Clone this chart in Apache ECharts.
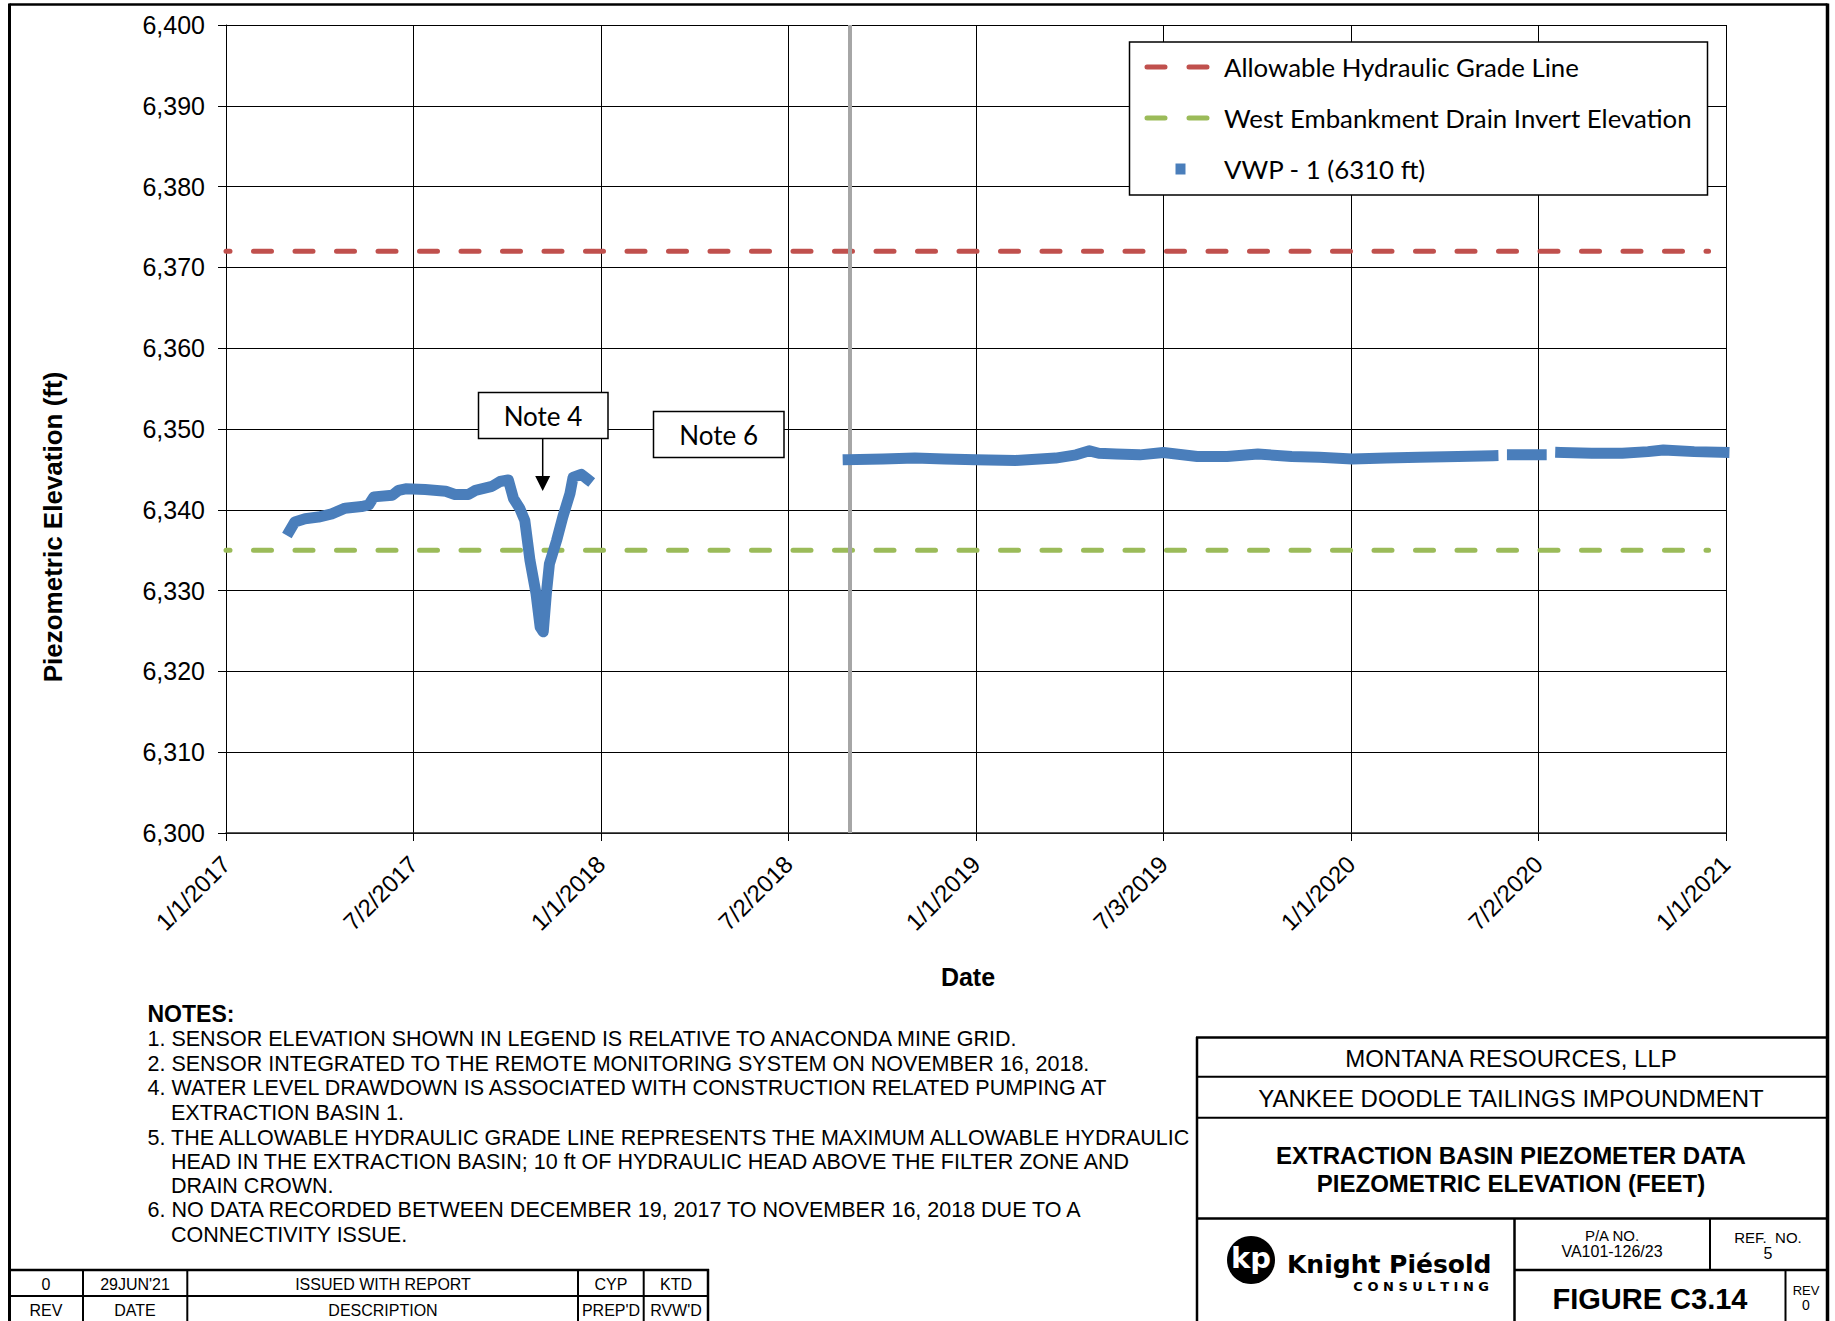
<!DOCTYPE html>
<html>
<head>
<meta charset="utf-8">
<title>Extraction Basin Piezometer Data</title>
<script src="https://cdn.jsdelivr.net/npm/echarts@6/dist/echarts.min.js"></script>
<style>
  html, body { margin: 0; padding: 0; background: #fff; }
  #main { width: 1835px; height: 1321px; }
</style>
</head>
<body>
<div id="main"></div>
<script>
// ---- data ----
const axisStart = '2017-01-01';
const axisEnd = '2021-01-01';
const xTickLabels = ['1/1/2017', '7/2/2017', '1/1/2018', '7/2/2018', '1/1/2019',
                     '7/3/2019', '1/1/2020', '7/2/2020', '1/1/2021'];

const hglDates = ['2017-01-01', '2020-12-15'];
const hglValues = [6372, 6372];

const drainDates = ['2017-01-01', '2020-12-15'];
const drainValues = [6335, 6335];

// VWP-1 readings (null = no record)
const vwpDates = [
  '2017-03-04', '2017-03-09', '2017-03-19', '2017-04-01', '2017-04-14', '2017-04-27',
  '2017-05-13', '2017-05-20', '2017-05-25', '2017-06-12', '2017-06-18', '2017-06-25',
  '2017-07-14', '2017-08-03', '2017-08-12', '2017-08-25', '2017-09-01', '2017-09-17',
  '2017-09-25', '2017-10-03', '2017-10-08', '2017-10-14', '2017-10-19', '2017-10-24',
  '2017-10-30', '2017-11-03', '2017-11-06', '2017-11-09', '2017-11-12', '2017-11-19',
  '2017-11-25', '2017-12-02', '2017-12-05', '2017-12-13', '2017-12-19',
  '2018-03-01',
  '2018-08-30', '2018-10-03', '2018-11-03', '2018-12-02', '2019-01-01', '2019-02-09',
  '2019-03-20', '2019-04-09', '2019-04-22', '2019-05-01', '2019-05-18', '2019-06-10',
  '2019-07-03', '2019-08-05', '2019-09-03', '2019-10-03', '2019-11-05', '2019-12-02',
  '2020-01-03', '2020-02-05', '2020-03-08', '2020-04-15', '2020-05-19',
  '2020-05-28',
  '2020-06-07', '2020-07-05',
  '2020-07-15',
  '2020-07-24', '2020-08-23', '2020-09-22', '2020-10-17', '2020-11-01', '2020-12-01',
  '2020-12-30'
];
const vwpValues = [
  6337.4, 6338.5, 6338.9, 6339.1, 6339.5, 6340.2,
  6340.4, 6340.6, 6341.6, 6341.8, 6342.4, 6342.6,
  6342.5, 6342.3, 6341.9, 6341.9, 6342.4, 6342.9,
  6343.5, 6343.7, 6341.4, 6340.2, 6338.7, 6333.8,
  6329.6, 6325.5, 6324.9, 6329.6, 6333.3, 6336.2,
  6339.1, 6342.0, 6344.0, 6344.4, 6343.8,
  null,
  6346.2, 6346.3, 6346.4, 6346.3, 6346.2, 6346.1,
  6346.4, 6346.8, 6347.3, 6347.0, 6346.9, 6346.8,
  6347.1, 6346.6, 6346.6, 6346.9, 6346.6, 6346.5,
  6346.3, 6346.4, 6346.5, 6346.6, 6346.7,
  null,
  6346.8, 6346.8,
  null,
  6347.1, 6347.0, 6347.0, 6347.2, 6347.4, 6347.2,
  6347.1
];

const gapMarkerDate = '2018-09-01';

const notesLines = [
  ['NOTES:', true, false],
  ['1. SENSOR ELEVATION SHOWN IN LEGEND IS RELATIVE TO ANACONDA MINE GRID.', false, false],
  ['2. SENSOR INTEGRATED TO THE REMOTE MONITORING SYSTEM ON NOVEMBER 16, 2018.', false, false],
  ['4. WATER LEVEL DRAWDOWN IS ASSOCIATED WITH CONSTRUCTION RELATED PUMPING AT', false, false],
  ['EXTRACTION BASIN 1.', false, true],
  ['5. THE ALLOWABLE HYDRAULIC GRADE LINE REPRESENTS THE MAXIMUM ALLOWABLE HYDRAULIC', false, false],
  ['HEAD IN THE EXTRACTION BASIN; 10 ft OF HYDRAULIC HEAD ABOVE THE FILTER ZONE AND', false, true],
  ['DRAIN CROWN.', false, true],
  ['6. NO DATA RECORDED BETWEEN DECEMBER 19, 2017 TO NOVEMBER 16, 2018 DUE TO A', false, false],
  ['CONNECTIVITY ISSUE.', false, true]
];

// ---- helpers ----
const DAY = 86400000;
function dayOf(s) {
  const p = s.split('-').map(Number);
  const a = axisStart.split('-').map(Number);
  return (Date.UTC(p[0], p[1] - 1, p[2]) - Date.UTC(a[0], a[1] - 1, a[2])) / DAY;
}
function pairs(dates, values) {
  return dates.map((d, i) => [dayOf(d), values[i]]);
}
const xMax = dayOf(axisEnd);
const xInterval = xMax / 8;
const ARIAL = 'Liberation Sans, Arial, sans-serif';
const SANS = 'Lato, Open Sans, sans-serif';
const LOGO = 'DejaVu Sans, sans-serif';

function txt(x, y, text, size, opts) {
  opts = opts || {};
  return {
    type: 'text', x: x, y: y, z: opts.z || 20, rotation: opts.rotation || 0,
    silent: true,
    style: {
      text: text, x: 0, y: 0,
      font: (opts.bold ? 'bold ' : '') + size + 'px ' + (opts.family || ARIAL),
      fill: opts.color || '#000',
      align: opts.align || 'center',
      verticalAlign: 'middle'
    }
  };
}
function ln(x1, y1, x2, y2, w, color) {
  return {
    type: 'line', z: 20, silent: true,
    shape: { x1: x1, y1: y1, x2: x2, y2: y2 },
    style: { stroke: color || '#000', lineWidth: w }
  };
}
function box(x, y, w, h, lw, z) {
  return {
    type: 'rect', z: z || 20, silent: true,
    shape: { x: x, y: y, width: w, height: h },
    style: { fill: '#fff', stroke: '#000', lineWidth: lw }
  };
}

// ---- page furniture (frame, notes, title block) ----
const gfx = [];
// drawing frame
gfx.push(ln(9.5, 4.5, 1827.5, 4.5, 2.5));
gfx.push(ln(9.5, 3.5, 9.5, 1321, 3));
gfx.push(ln(1827.5, 3.5, 1827.5, 1321, 3.5));

// legend frame
gfx.push(box(1129.5, 42, 578, 153, 1.5, 3));

// callouts
gfx.push(box(478.5, 392.5, 129.5, 46, 1.5));
gfx.push(txt(543, 416, 'Note 4', 26, { family: SANS }));
gfx.push(ln(542.7, 438.7, 542.7, 478, 1.5));
gfx.push({
  type: 'polygon', z: 20, silent: true,
  shape: { points: [[535.2, 476], [550.2, 476], [542.7, 491]] },
  style: { fill: '#000' }
});
gfx.push(box(653.5, 411.5, 130.5, 46, 1.5));
gfx.push(txt(718.7, 435, 'Note 6', 26, { family: SANS }));

// axis titles
gfx.push(txt(53, 527, 'Piezometric Elevation (ft)', 26, { bold: true, rotation: Math.PI / 2 }));
gfx.push(txt(968, 977, 'Date', 25, { bold: true }));

// notes
const noteY = [1013.5, 1039.2, 1063.8, 1088.4, 1113, 1137.5, 1162.1, 1185.5, 1210.1, 1234.7];
notesLines.forEach((n, i) => {
  gfx.push(txt(n[2] ? 171 : 147.5, noteY[i], n[0], n[1] ? 23 : 21.5, { bold: n[1], align: 'left' }));
});

// revision table
gfx.push(ln(9, 1270, 709, 1270, 2.5));
gfx.push(ln(9, 1296, 709, 1296, 2));
[83, 187.3, 578, 643.7].forEach(x => gfx.push(ln(x, 1270, x, 1321, 2)));
gfx.push(ln(708, 1269, 708, 1321, 2.5));
const revRow1 = ['0', "29JUN'21", 'ISSUED WITH REPORT', 'CYP', 'KTD'];
const revRow2 = ['REV', 'DATE', 'DESCRIPTION', "PREP'D", "RVW'D"];
const revCx = [46, 135, 383, 611, 676];
revRow1.forEach((t, i) => gfx.push(txt(revCx[i], 1284, t, 16)));
revRow2.forEach((t, i) => gfx.push(txt(revCx[i], 1310.5, t, 16)));

// title block
gfx.push(ln(1196, 1037.5, 1828, 1037.5, 2.5));
gfx.push(ln(1197, 1037, 1197, 1321, 2.5));
gfx.push(ln(1197, 1076.7, 1828, 1076.7, 2));
gfx.push(ln(1197, 1117.8, 1828, 1117.8, 2));
gfx.push(ln(1197, 1218.5, 1828, 1218.5, 2.5));
gfx.push(ln(1514.5, 1218.5, 1514.5, 1321, 2.5));
gfx.push(ln(1710, 1218.5, 1710, 1270, 2));
gfx.push(ln(1514.5, 1270, 1828, 1270, 2.5));
gfx.push(ln(1785.5, 1270, 1785.5, 1321, 2));
gfx.push(txt(1511, 1058, 'MONTANA RESOURCES, LLP', 24));
gfx.push(txt(1511, 1098, 'YANKEE DOODLE TAILINGS IMPOUNDMENT', 24));
gfx.push(txt(1511, 1155, 'EXTRACTION BASIN PIEZOMETER DATA', 24, { bold: true }));
gfx.push(txt(1511, 1183, 'PIEZOMETRIC ELEVATION (FEET)', 24, { bold: true }));
gfx.push(txt(1612, 1235, 'P/A NO.', 15));
gfx.push(txt(1612, 1251, 'VA101-126/23', 16));
gfx.push(txt(1768, 1237, 'REF.  NO.', 15));
gfx.push(txt(1768, 1253, '5', 16));
gfx.push(txt(1650, 1299, 'FIGURE C3.14', 29, { bold: true }));
gfx.push(txt(1806, 1290, 'REV', 13));
gfx.push(txt(1806, 1305, '0', 14));

// logo
gfx.push({
  type: 'circle', z: 20, silent: true,
  shape: { cx: 1251, cy: 1260, r: 24 },
  style: { fill: '#000' }
});
gfx.push(txt(1251, 1258, 'kp', 29, { bold: true, color: '#fff', family: LOGO }));
gfx.push(txt(1287, 1264, 'Knight Piésold', 25, { bold: true, align: 'left', family: LOGO }));
gfx.push(txt(1489, 1286, 'C O N S U L T I N G', 13, { bold: true, align: 'right', family: LOGO }));

// ---- legend icons ----
const dashIcon = 'path://M0,0M66,11M3,3h18a2.5,2.5,0,0,1,0,5h-18a2.5,2.5,0,0,1,0,-5zM45,3h18a2.5,2.5,0,0,1,0,5h-18a2.5,2.5,0,0,1,0,-5z';
const squareIcon = 'path://M0,0M66,11M31.5,0h10v11h-10z';

const chart = echarts.init(document.getElementById('main'), null, { renderer: 'svg' });
chart.setOption({
  animation: false,
  backgroundColor: '#fff',
  grid: { left: 226, top: 25, width: 1500, height: 808, containLabel: false },
  legend: {
    orient: 'vertical',
    left: 1144, top: 52,
    padding: 0,
    itemWidth: 66, itemHeight: 11, itemGap: 21,
    selectedMode: false,
    itemStyle: { borderWidth: 0 },
    textStyle: { fontFamily: SANS, fontSize: 25.8, color: '#000', lineHeight: 30, padding: [0, 0, 0, 9] },
    data: [
      { name: 'Allowable Hydraulic Grade Line', icon: dashIcon },
      { name: 'West Embankment Drain Invert Elevation', icon: dashIcon },
      { name: 'VWP - 1 (6310 ft)', icon: squareIcon }
    ]
  },
  xAxis: {
    type: 'value', min: 0, max: xMax, interval: xInterval,
    axisLine: { show: true, onZero: false, lineStyle: { color: '#222', width: 1.5 } },
    axisTick: { show: true, length: 8, lineStyle: { color: '#000', width: 1 } },
    splitLine: { show: true, lineStyle: { color: '#000', width: 1 } },
    axisLabel: {
      rotate: 45, margin: 27, verticalAlign: 'middle',
      fontFamily: ARIAL, fontSize: 24, color: '#000',
      showMinLabel: true, showMaxLabel: true,
      formatter: v => xTickLabels[Math.round(v / xInterval)] || ''
    }
  },
  yAxis: {
    type: 'value', min: 6300, max: 6400, interval: 10,
    axisLine: { show: true, lineStyle: { color: '#000', width: 1 } },
    axisTick: { show: true, length: 8, lineStyle: { color: '#000', width: 1 } },
    splitLine: { show: true, lineStyle: { color: '#000', width: 1 } },
    axisLabel: {
      margin: 21, fontFamily: ARIAL, fontSize: 25, color: '#000',
      formatter: v => String(v).replace(/\B(?=(\d{3})+(?!\d))/g, ',')
    }
  },
  series: [
    {
      name: 'Allowable Hydraulic Grade Line', type: 'line',
      data: pairs(hglDates, hglValues),
      symbol: 'none', silent: true, z: 2,
      color: '#C0504D',
      lineStyle: { color: '#C0504D', width: 5, type: [18, 23.5], dashOffset: 14, cap: 'round' },
      markLine: {
        silent: true, symbol: ['none', 'none'], z: 3,
        label: { show: false },
        lineStyle: { color: '#A6A6A6', width: 4, type: 'solid' },
        data: [{ xAxis: dayOf(gapMarkerDate) }]
      }
    },
    {
      name: 'West Embankment Drain Invert Elevation', type: 'line',
      data: pairs(drainDates, drainValues),
      symbol: 'none', silent: true, z: 2,
      color: '#9BBB59',
      lineStyle: { color: '#9BBB59', width: 5, type: [18, 23.5], dashOffset: 14, cap: 'round' }
    },
    {
      name: 'VWP - 1 (6310 ft)', type: 'line',
      data: pairs(vwpDates, vwpValues),
      symbol: 'none', silent: true, z: 6,
      connectNulls: false,
      color: '#4A7EBB',
      lineStyle: { color: '#4A7EBB', width: 11, cap: 'square', join: 'round' }
    }
  ],
  graphic: { elements: gfx }
});
</script>
</body>
</html>
